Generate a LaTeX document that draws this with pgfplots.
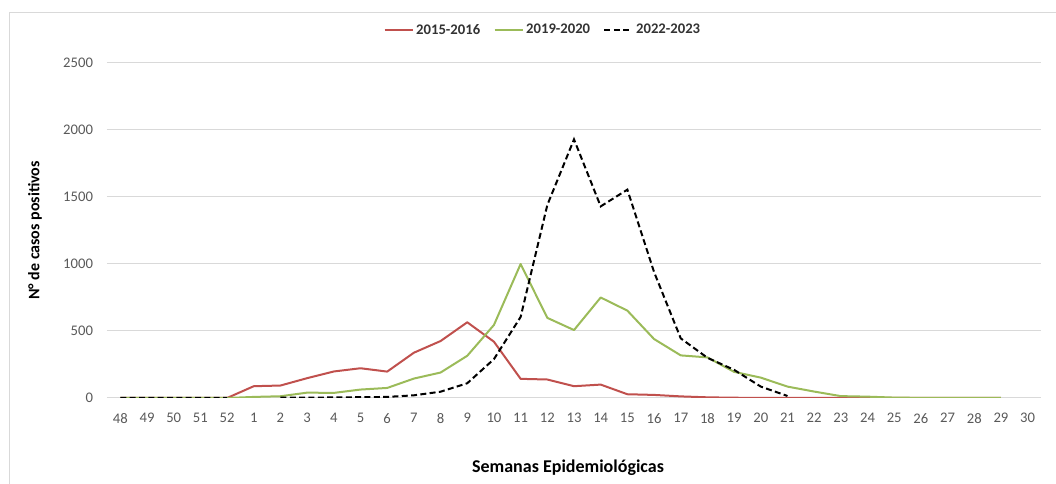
\documentclass[border=0pt]{standalone}
\usepackage{pgfplots}
\pgfplotsset{compat=1.18}
\usepackage{pgfplotstable}
\usepackage{fontspec}
\setmainfont{Carlito}

\definecolor{rojo}{HTML}{C0504D}
\definecolor{verde}{HTML}{9BBB59}
\definecolor{rejilla}{HTML}{D9D9D9}
\definecolor{gristexto}{HTML}{595959}

% x = posición de la semana (0 = semana 48)
\pgfplotstableread{
x y
0 0
1 0
2 0
3 0
4 0
5 88
6 93
7 148
8 198
9 222
10 197
11 338
12 425
13 565
14 420
15 143
16 138
17 88
18 100
19 28
20 23
21 12
22 5
23 2
24 1
25 0
26 0
27 0
28 0
29 0
30 0
31 0
32 0
33 0
}\datoA

\pgfplotstableread{
x y
0 0
1 0
2 0
3 0
4 0
5 8
6 13
7 40
8 38
9 63
10 75
11 145
12 190
13 315
14 545
15 1000
16 598
17 507
18 750
19 652
20 440
21 318
22 303
23 195
24 152
25 85
26 48
27 14
28 10
29 3
30 1
31 1
32 1
33 1
}\datoB

\pgfplotstableread{
x y
0 0
1 0
2 0
3 0
4 0
5 nan
6 2
7 3
8 4
9 6
10 8
11 20
12 47
13 110
14 290
15 605
16 1440
17 1930
18 1430
19 1555
20 940
21 445
22 300
23 210
24 85
25 15
}\datoC

\begin{document}
\begin{tikzpicture}
\useasboundingbox (-80.25pt,-64.5pt) rectangle (711.75pt,298.5pt);
\draw[rejilla, line width=0.75pt] (-72.75pt,-64.5pt) -- (-72.75pt,288.75pt) -- (711.75pt,288.75pt);
\begin{axis}[
  at={(0,0)}, anchor=south west,
  scale only axis,
  width=700.5pt, height=251.25pt,
  xmin=-0.5, xmax=34.5,
  ymin=0, ymax=2500,
  xtick={0,...,34},
  xticklabels={48,49,50,51,52,1,2,3,4,5,6,7,8,9,10,11,12,13,14,15,16,17,18,19,20,21,22,23,24,25,26,27,28,29,30},
  ytick={0,500,...,2500},
  ymajorgrids,
  grid style={rejilla, line width=0.75pt},
  axis x line*=bottom,
  axis y line*=left,
  x axis line style={rejilla, line width=0.75pt, -},
  y axis line style={draw=none},
  major tick length=0pt,
  tick label style={font=\fontsize{11}{13}\selectfont, text=gristexto},
  xticklabel style={yshift=-8pt},
  yticklabel style={xshift=-7pt},
  /pgf/number format/assume math mode=true,
  /pgf/number format/1000 sep={},
  unbounded coords=jump,
  xlabel={Semanas Epidemiológicas},
  ylabel={N° de casos positivos},
  label style={font=\fontsize{12}{14}\selectfont\bfseries, text=black},
  xlabel style={at={(axis description cs:0.4936,-0.209)}, anchor=center,
    font=\fontsize{13.5}{15}\selectfont\bfseries},
  ylabel style={at={(axis description cs:-0.0771,0.5)}, anchor=center},
  legend columns=3,
  legend style={at={(axis description cs:0.467,1.0985)}, anchor=center, draw=none,
    font=\fontsize{11}{13}\selectfont\bfseries, text=black!80,
    /tikz/every even column/.append style={column sep=8pt}},
  legend image code/.code={\draw[#1] (0pt,0pt) -- (21pt,0pt);},
]
\addplot[rojo, line width=1.5pt, line join=round] table {\datoA};
\addlegendentry{2015-2016}
\addplot[verde, line width=1.5pt, line join=round] table {\datoB};
\addlegendentry{2019-2020}
\addplot[black, line width=1.5pt, dash pattern=on 4.5pt off 2.5pt] table {\datoC};
\addlegendentry{2022-2023}
\end{axis}
\end{tikzpicture}
\end{document}
